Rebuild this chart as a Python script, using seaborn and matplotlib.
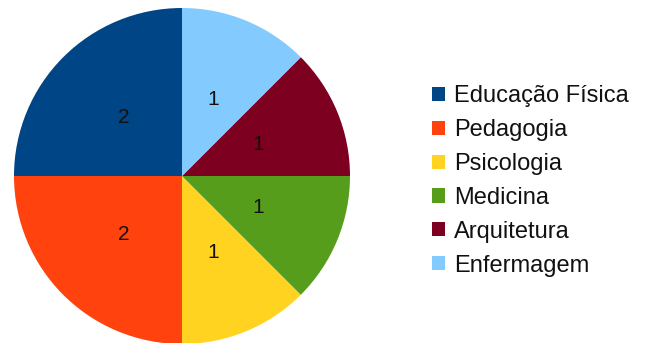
import matplotlib
matplotlib.use("Agg")
import matplotlib.pyplot as plt
from matplotlib.patches import Patch
import seaborn as sns

# Course counts
cursos = ["Educação Física", "Pedagogia", "Psicologia", "Medicina", "Arquitetura", "Enfermagem"]
quantidades = [2, 2, 1, 1, 1, 1]
cores_hex = ["#004586", "#ff420e", "#ffd320", "#579d1c", "#7e0021", "#83caff"]

sns.set_theme(style="white")
plt.rcParams["font.family"] = ["Liberation Sans", "DejaVu Sans"]
cores = sns.color_palette(cores_hex)

W, H = 647, 343
fig = plt.figure(figsize=(W / 100, H / 100), dpi=100)
fig.patch.set_facecolor("white")

cx, cy, r = 182, 176, 168
ax = fig.add_axes([(cx - r) / W, (H - cy - r) / H, 2 * r / W, 2 * r / H])

wedges, texts = ax.pie(
    quantidades,
    colors=cores,
    startangle=90,
    counterclock=True,
    labels=[str(q) for q in quantidades],
    labeldistance=0.49,
    radius=1,
    wedgeprops=dict(linewidth=0),
    textprops=dict(fontsize=15, color="#111111", ha="center", va="center"),
)
ax.set_xlim(-1, 1)
ax.set_ylim(-1, 1)
ax.set_aspect("equal")
ax.axis("off")

handles = [Patch(facecolor=c, edgecolor="none") for c in cores]
fig.legend(
    handles, cursos,
    loc="center left",
    bbox_to_anchor=(420 / W, 1 - 181 / H),
    frameon=False,
    fontsize=17,
    handlelength=0.55,
    handleheight=0.55,
    handletextpad=0.38,
    labelspacing=0.5,
    borderpad=0,
    labelcolor="#111111",
)

fig.savefig("out.png", dpi=100)
